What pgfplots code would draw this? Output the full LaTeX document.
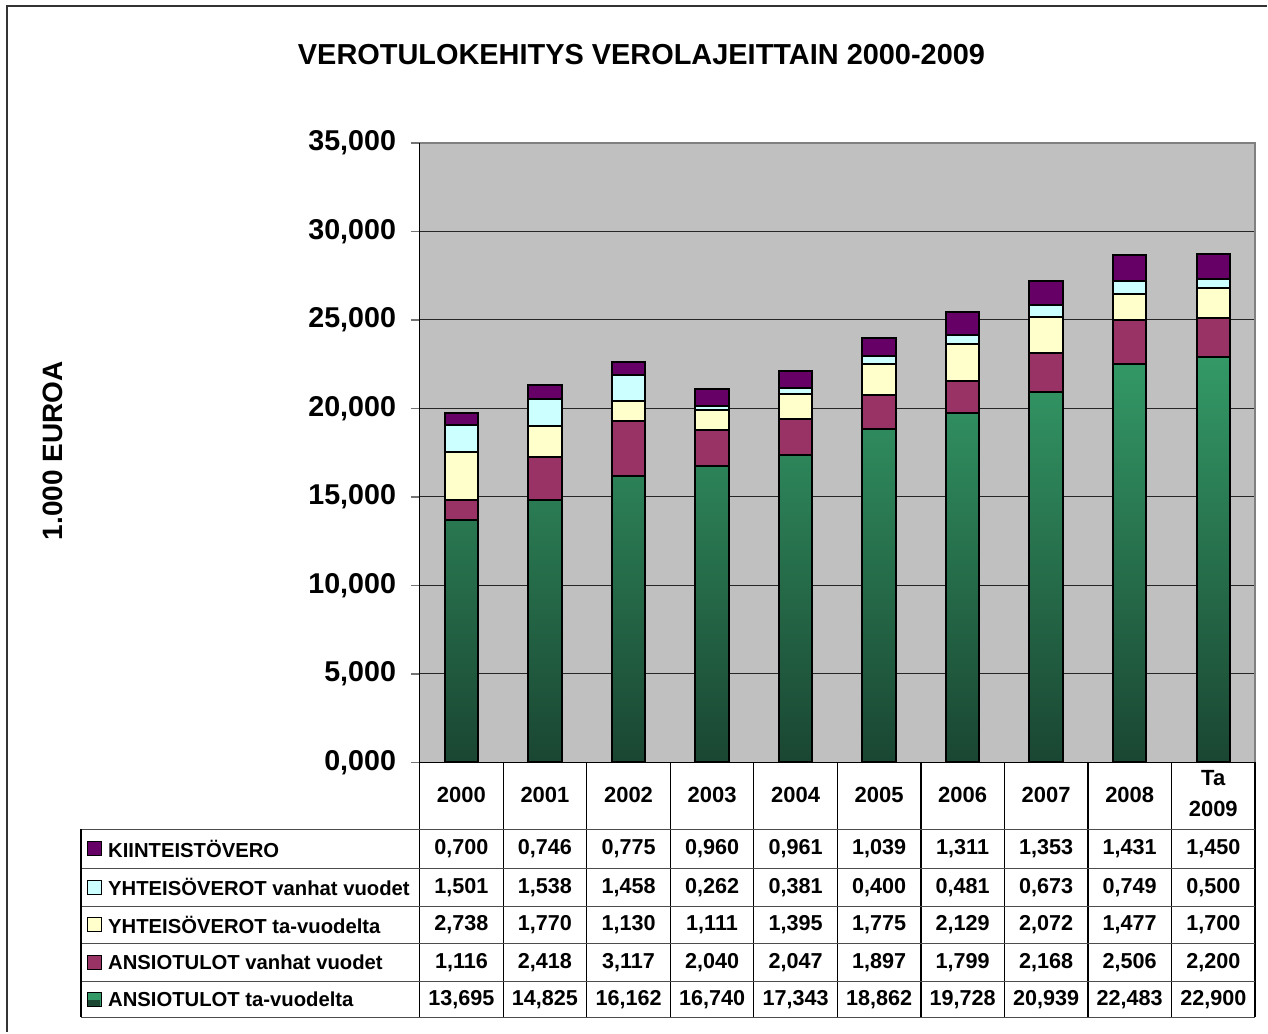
\documentclass[border=0pt]{standalone}
\usepackage{fontspec}
\setmainfont{Liberation Sans}
\usepackage{pgfplots}
\usepackage{pgfplotstable}
\pgfplotsset{compat=1.18}
\definecolor{grn}{HTML}{339966}
\definecolor{grnd}{HTML}{1A4632}
\definecolor{grnm}{HTML}{2B7F55}
\definecolor{plum}{HTML}{993366}
\definecolor{lyel}{HTML}{FFFFCC}
\definecolor{lcyan}{HTML}{CCFFFF}
\definecolor{dpur}{HTML}{660066}
\definecolor{bggray}{HTML}{C0C0C0}
\pgfkeys{/pgf/number format/.cd,fixed,fixed zerofill,precision=3,use comma,assume math mode=true}

\pgfplotstableread{
x ansta ansvan yhtta yhtvan kiint
0 13.695 1.116 2.738 1.501 0.700
1 14.825 2.418 1.770 1.538 0.746
2 16.162 3.117 1.130 1.458 0.775
3 16.740 2.040 1.111 0.262 0.960
4 17.343 2.047 1.395 0.381 0.961
5 18.862 1.897 1.775 0.400 1.039
6 19.728 1.799 2.129 0.481 1.311
7 20.939 2.168 2.072 0.673 1.353
8 22.483 2.506 1.477 0.749 1.431
9 22.900 2.200 1.700 0.500 1.450
}\data

\begin{document}
\begin{tikzpicture}
\begin{scope}[x=0.75pt,y=-0.75pt,shift={(-420,-763)}]
\useasboundingbox (0,0) rectangle (1268,1033);
\end{scope}
\begin{axis}[
  at={(0,0)}, anchor=south west,
  scale only axis, width=627pt, height=465pt,
  ybar stacked, bar width=0.4,
  xmin=-0.5, xmax=9.5, ymin=0, ymax=35,
  ytick={0,5,...,35}, xtick=\empty,
  ytick pos=left, tick align=outside, major tick length=6.75pt,
  ytick style={draw=black!55, line width=1pt},
  axis background/.style={fill=bggray},
  axis line style={draw=black!50, line width=1.2pt},
  ymajorgrids, grid style={draw=black!85, line width=0.8pt},
  yticklabel style={font=\bfseries\fontsize{21.5}{25}\selectfont, xshift=-7.5pt},
]
\addplot[draw=black, line width=1.5pt, top color=grn, middle color=grnm, bottom color=grnd] table[x=x,y=ansta]{\data};
\addplot[draw=black, line width=1.5pt, fill=plum] table[x=x,y=ansvan]{\data};
\addplot[draw=black, line width=1.5pt, fill=lyel] table[x=x,y=yhtta]{\data};
\addplot[draw=black, line width=1.5pt, fill=lcyan] table[x=x,y=yhtvan]{\data};
\addplot[draw=black, line width=1.5pt, fill=dpur] table[x=x,y=kiint]{\data};
\end{axis}
\begin{scope}[x=0.75pt,y=-0.75pt,shift={(-420,-763)}]
% outer frame
\draw[line width=1.5pt, black!80] (7,1033) -- (7,6) -- (1268,6);
% axis left and bottom lines
\draw[line width=1.2pt, black] (420,143) -- (420,763) -- (1256,763);
% title
\node[font=\bfseries\fontsize{21.7}{25}\selectfont] at (642,55) {VEROTULOKEHITYS VEROLAJEITTAIN 2000-2009};
% y label
\node[font=\bfseries\fontsize{21}{25}\selectfont, rotate=90] at (53,451) {1.000 EUROA};
% table grid
\foreach \k in {0,...,10} \draw[line width=1pt, black] ({420+83.6*\k},763) -- ({420+83.6*\k},1018);
\foreach \yy in {830,869,907,944,982,1018} \draw[line width=1pt, black!70] (81,\yy) -- (1256,\yy);
\draw[line width=1pt, black] (81,830) -- (81,1018);
% header
\foreach \k/\yr in {0/2000,1/2001,2/2002,3/2003,4/2004,5/2005,6/2006,7/2007,8/2008}
  \node[font=\bfseries\fontsize{16.5}{20}\selectfont] at ({461.8+83.6*\k},796) {\yr};
\node[font=\bfseries\fontsize{16.5}{23}\selectfont, align=center] at ({461.8+83.6*9},794) {Ta\\2009};
% legend entries
\foreach \col/\yy/\lab in {dpur/849.5/KIINTEISTÖVERO, lcyan/888/YHTEISÖVEROT vanhat vuodet, lyel/925.5/YHTEISÖVEROT ta-vuodelta, plum/963/ANSIOTULOT vanhat vuodet, grn/1000/ANSIOTULOT ta-vuodelta}{
  \draw[fill=\col, draw=black, line width=0.6pt] (87,\yy-7) rectangle (101,\yy+7);
  \node[anchor=west, inner sep=0pt, font=\bfseries\fontsize{15.2}{18}\selectfont] at (108,\yy) {\lab};
}
\fill[grnd] (88,1001) rectangle (100,1006.5);
% values
\foreach \c in {0,...,9}{
  \foreach \colname/\yy in {kiint/849.5, yhtvan/888, yhtta/925.5, ansvan/963, ansta/1000}{
    \pgfplotstablegetelem{\c}{\colname}\of\data
    \node[font=\bfseries\fontsize{16.2}{19}\selectfont] at ({461.8+83.6*\c},\yy) {\pgfmathprintnumber{\pgfplotsretval}};
  }
}
\end{scope}
\end{tikzpicture}
\end{document}
